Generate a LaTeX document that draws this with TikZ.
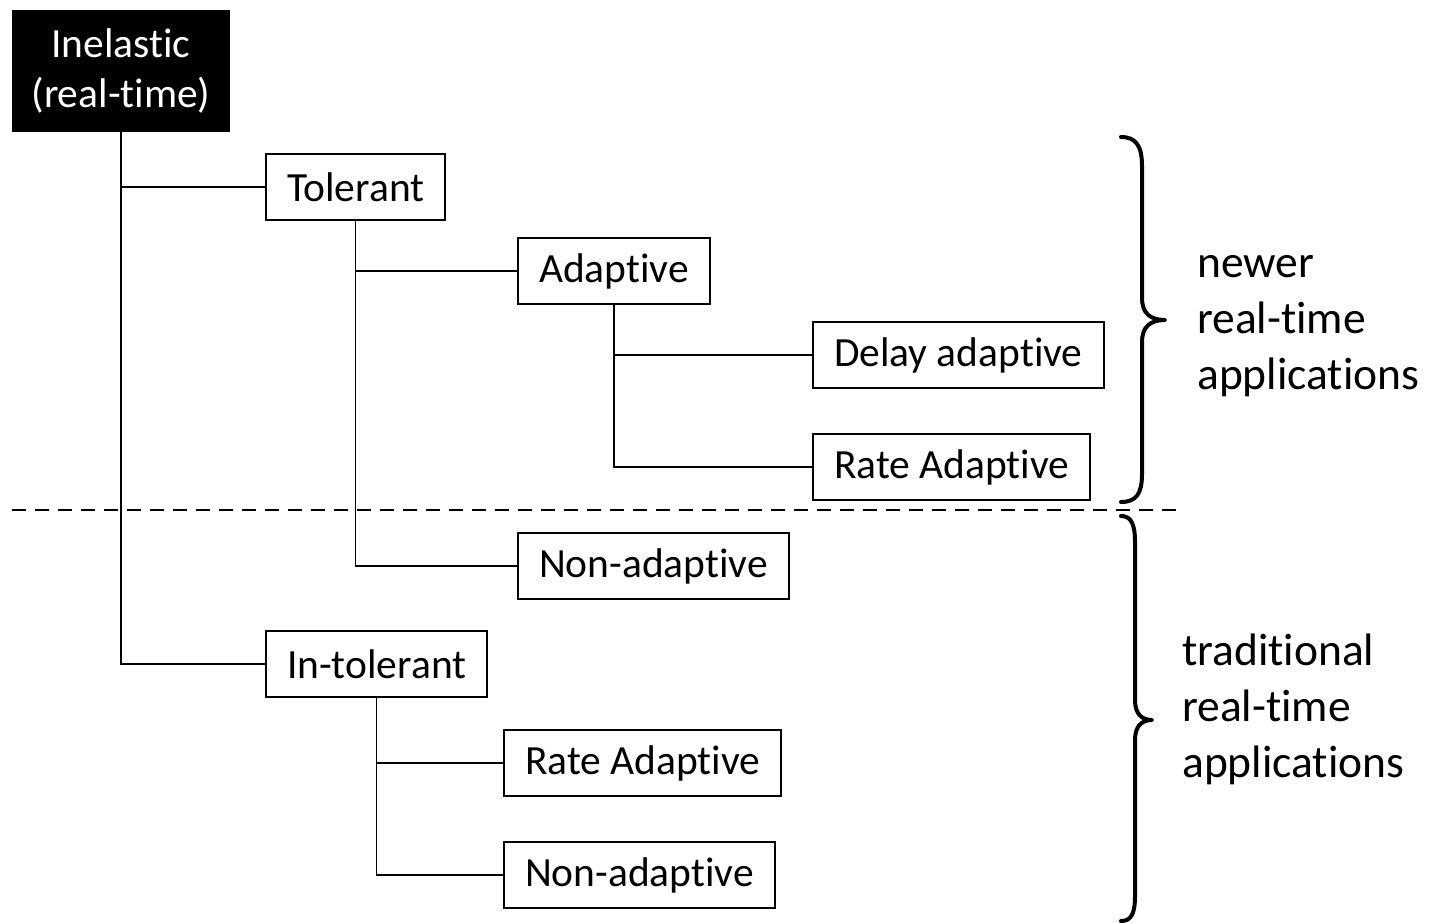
\documentclass[tikz,border=0pt]{standalone}
\usepackage{fontspec}
\setmainfont{Carlito}[Ligatures={NoCommon,NoContextual}]
\begin{document}
\begin{tikzpicture}[x=1pt,y=-1pt,
  box/.style={draw, line width=2pt, anchor=west, minimum height=66pt, inner xsep=21pt, inner ysep=0pt, font=\fontsize{41.5}{50}\selectfont},
  conn/.style={line width=1.4pt},
  bracepath/.style={line width=4pt, line cap=round, line join=round},
  lab/.style={anchor=west, align=left, inner sep=0pt, font=\fontsize{45.5}{56}\selectfont},
  sep/.style={line width=1.3pt, dash pattern=on 14pt off 9pt}]
\useasboundingbox (0,0) rectangle (1429,923);
\node[fill=black, text=white, minimum width=218pt, minimum height=122pt, align=center, inner sep=0pt, font=\fontsize{41.5}{50}\selectfont] (ine) at (121,71) {Inelastic\\(real-time)};
\node[box] (tol) at (265,187) {Tolerant};
\node[box] (ada) at (517,271) {Adaptive};
\node[box] (del) at (812,355) {Delay adaptive};
\node[box] (rat1) at (812,467) {Rate Adaptive};
\node[box] (non1) at (517,566) {Non-adaptive};
\node[box] (int) at (265,664) {In-tolerant};
\node[box] (rat2) at (503,763) {Rate Adaptive};
\node[box] (non2) at (503,875) {Non-adaptive};
\draw[conn] (ine.south) |- (tol.west);
\draw[conn] (ine.south) |- (int.west);
\draw[conn] (tol.south) |- (ada.west);
\draw[conn] (tol.south) |- (non1.west);
\draw[conn] (ada.south) |- (del.west);
\draw[conn] (ada.south) |- (rat1.west);
\draw[conn] (int.south) |- (rat2.west);
\draw[conn] (int.south) |- (non2.west);
\coordinate (dl) at (12,510);
\coordinate (dr) at (1178,510);
\draw[sep] (dl) -- (dr);
\draw[bracepath] (1121,137) .. controls (1136,137) and (1142,146) .. (1142,166) -- (1142,298) .. controls (1142,313) and (1150,320) .. (1165,320) .. controls (1150,320) and (1142,327) .. (1142,342) -- (1142,474) .. controls (1142,494) and (1136,502) .. (1121,502);
\draw[bracepath] (1121,516) .. controls (1131,516) and (1135,524) .. (1135,542) -- (1135,700) .. controls (1135,713) and (1141,720) .. (1152,720) .. controls (1141,720) and (1135,727) .. (1135,740) -- (1135,896) .. controls (1135,914) and (1131,921) .. (1121,921);
\node[lab] (newer) at (1197,326) {newer\\real-time\\applications};
\node[lab] (trad) at (1182,709) {traditional\\real-time\\applications};
\end{tikzpicture}
\end{document}
